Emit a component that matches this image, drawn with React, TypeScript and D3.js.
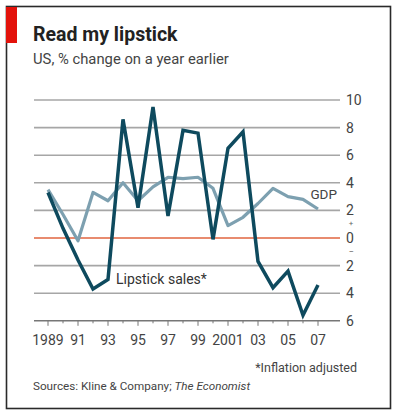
import React from "react";
import * as d3 from "d3";

const years = [1989,1990,1991,1992,1993,1994,1995,1996,1997,1998,1999,2000,2001,2002,2003,2004,2005,2006,2007];
const lipstick = [3.3,0.7,-1.6,-3.7,-3.0,8.6,2.2,9.5,1.6,7.8,7.6,-0.1,6.5,7.7,-1.7,-3.6,-2.4,-5.6,-3.4];
const gdp = [3.5,1.7,-0.2,3.3,2.7,4.0,2.7,3.7,4.4,4.3,4.4,3.6,0.9,1.5,2.5,3.6,3.0,2.8,2.1];
const yTicks = [10,8,6,4,2,0,-2,-4,-6];
const xLabelYears = [1989,1991,1993,1995,1997,1999,2001,2003,2005,2007];
const xLabel = (y: number) => (y === 1989 || y === 2001 ? String(y) : String(y).slice(2));

const FONT = "Roboto, 'Open Sans', sans-serif";

export default function App() {
  const x = d3.scaleLinear().domain([1989, 2007]).range([48, 318]);
  const y = d3.scaleLinear().domain([-6, 10]).range([320.8, 100]);
  const line = d3.line<number>().x((_, i) => x(years[i])).y((d) => y(d));
  const allYears = d3.range(1989, 2008);
  return (
    <svg width={396} height={415} style={{ position: "absolute", left: 0, top: 0, background: "#fff" }} fontFamily={FONT}>
      <rect x={0} y={0} width={396} height={415} fill="#fff" />
      <rect x={6.5} y={6.5} width={384} height={402} fill="none" stroke="#2a2a2a" strokeWidth={1.6} />
      <rect x={6} y={7} width={11} height={36} fill="#e3120b" />
      <text x={33} y={41} fontSize={19.5} fontWeight="bold" fill="#222">Read my lipstick</text>
      <text x={33} y={64} fontSize={14.8} fill="#444">US, % change on a year earlier</text>

      {yTicks.map((t) => (
        <line key={t} x1={34} x2={340} y1={y(t)} y2={y(t)}
          stroke={t === 0 ? "#e0643f" : t === -6 ? "#777" : "#a6a6a6"} strokeWidth={t === 0 ? 1.3 : 1.6} />
      ))}
      {yTicks.map((t) => (
        <text key={"l" + t} x={346} y={y(t)} dy="0.36em" fontSize={14} fill="#444">{Math.abs(t)}</text>
      ))}
      <text x={351} y={y(1.1)} dy="0.35em" fontSize={8} fill="#666" textAnchor="middle">+</text>
      <text x={351} y={y(-1.0)} dy="0.35em" fontSize={9} fill="#666" textAnchor="middle">−</text>

      {allYears.map((yr) => (
        <line key={"t" + yr} x1={x(yr)} x2={x(yr)} y1={y(-6)} y2={y(-6) + ((yr - 1989) % 2 === 0 ? 5 : 2.5)} stroke="#777" strokeWidth={1} />
      ))}
      {xLabelYears.map((yr) => (
        <text key={"x" + yr} x={x(yr)} y={345} fontSize={14} fill="#444" textAnchor="middle">{xLabel(yr)}</text>
      ))}

      <path d={line(gdp) || ""} fill="none" stroke="#7da0b0" strokeWidth={3.2} strokeLinejoin="round" />
      <path d={line(lipstick) || ""} fill="none" stroke="#0e4a5e" strokeWidth={3.5} strokeLinejoin="miter" strokeMiterlimit={3} />

      <text x={337} y={199} fontSize={13.5} fill="#444" textAnchor="end">GDP</text>
      <text x={116} y={284} fontSize={14} fill="#333">Lipstick sales*</text>

      <text x={357} y={372} fontSize={12.5} fill="#444" textAnchor="end">*Inflation adjusted</text>
      <text x={33} y={390} fontSize={11.7} fill="#444">Sources: Kline &amp; Company; <tspan fontStyle="italic">The Economist</tspan></text>
    </svg>
  );
}
